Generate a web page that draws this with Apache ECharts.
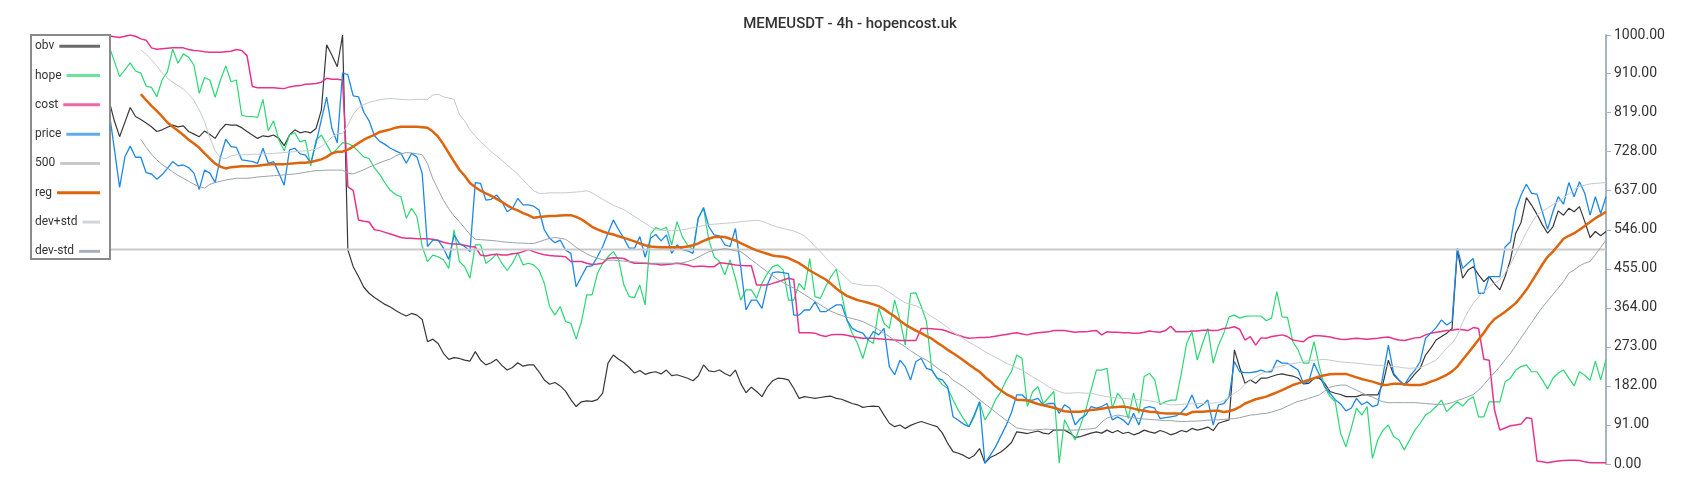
<!DOCTYPE html>
<html>
<head>
<meta charset="utf-8">
<script src="https://cdn.jsdelivr.net/npm/echarts@6/dist/echarts.min.js"></script>
<style>
html,body{margin:0;padding:0;background:#fff;}
#chart{width:1700px;height:500px;}
</style>
</head>
<body>
<div id="chart"></div>
<script>
const titleText = 'MEMEUSDT - 4h - hopencost.uk';
const seriesNames = ['obv', 'hope', 'cost', 'price', '500', 'reg', 'dev+std', 'dev-std'];
const yTicks = { min: 0, max: 1000, interval: 91 };
const level500 = 500;

const obv = [848,800,763,797,831,810,803,795,786,775,
779,785,790,786,788,775,769,763,776,768,
759,779,792,790,790,784,775,767,759,765,
763,767,759,742,767,779,772,775,772,782,
825,977,953,926,1000,499,460,437,412,398,
388,380,372,366,358,351,345,351,347,337,
285,291,281,258,244,248,246,242,240,262,
242,231,236,244,230,219,225,236,228,231,
231,215,196,186,190,182,170,150,134,145,
147,146,150,165,235,254,244,236,225,212,
218,209,213,215,210,219,206,208,204,200,
194,205,231,217,215,219,211,205,219,188,
166,179,169,157,179,194,200,199,196,176,
153,157,155,153,155,157,158,153,151,146,
141,138,132,134,135,134,114,95,87,91,
83,90,95,99,95,91,87,72,48,29,
25,20,13,20,36,2,15,21,28,38,
50,75,73,71,74,77,72,70,79,79,
79,72,62,64,68,72,75,72,79,73,
78,71,74,68,72,79,75,72,78,74,
68,72,78,75,83,79,82,86,78,95,
99,103,266,225,188,196,188,200,200,204,
208,210,207,205,200,187,188,200,200,188,
169,165,162,157,157,157,161,161,161,161,
188,242,208,195,184,195,210,223,254,270,
289,297,305,316,499,433,452,460,441,425,
437,420,406,437,476,538,563,621,603,582,
558,538,553,590,580,596,588,600,565,528,
542,532,542];

const hope = [975,939,903,919,935,916,911,881,878,856,
895,914,967,934,956,948,930,864,901,895,
855,895,928,891,895,813,810,810,808,850,
777,800,755,730,767,772,751,755,695,755,
767,745,723,735,749,747,741,728,716,712,
690,675,655,638,628,623,573,596,577,507,
472,487,483,476,456,546,472,460,433,511,
511,468,477,490,468,451,468,493,464,468,
464,452,421,367,347,367,332,328,291,332,
394,394,444,468,483,495,476,417,390,388,
417,371,535,551,546,552,511,565,530,510,
500,573,596,522,483,472,441,476,433,382,
406,406,386,421,444,460,464,452,382,382,
421,406,479,390,386,413,437,454,398,336,
305,281,246,289,281,363,328,316,382,336,
277,398,399,367,332,219,200,185,176,150,
125,105,87,110,145,103,122,150,168,195,
215,254,246,134,169,180,141,155,169,2,
103,79,56,90,126,173,219,219,223,130,
165,149,106,165,118,204,211,196,138,145,
149,149,211,281,309,242,281,316,235,277,
305,343,347,340,344,345,345,345,334,340,
402,343,342,285,266,235,235,285,227,180,
157,145,72,40,83,130,114,134,13,56,
79,91,64,56,33,56,79,95,114,122,
134,149,122,134,145,135,149,157,110,110,
145,145,145,192,200,219,227,231,215,215,
196,175,200,212,219,200,182,215,207,195,
240,196,244];

const cost = [998,996,994,997,1000,997,991,988,970,967,
968,969,970,970,970,966,964,963,961,960,
960,960,961,962,966,964,952,880,877,877,
877,877,876,875,879,881,882,885,886,887,
890,899,897,897,895,646,638,569,566,564,
546,544,540,536,532,528,526,526,525,525,
525,524,521,517,514,513,512,510,507,506,
487,485,488,489,487,487,490,491,495,500,
495,491,488,486,485,484,483,472,472,472,
468,465,466,468,479,481,480,479,472,468,
468,468,467,466,464,465,466,468,466,464,
460,461,461,460,460,469,468,466,464,463,
462,462,417,417,417,421,425,429,433,430,
306,306,306,305,300,297,301,302,302,300,
297,295,293,293,293,292,291,290,289,288,
288,288,288,316,316,315,314,313,309,304,
300,296,293,294,295,295,296,298,300,302,
304,306,303,301,304,306,307,308,311,311,
311,309,307,308,308,310,311,301,308,307,
307,306,306,305,305,307,310,308,307,311,
321,308,308,308,310,310,312,312,311,312,
316,317,320,314,289,297,277,294,293,297,
299,301,297,289,287,285,295,299,299,298,
296,293,291,290,292,293,292,291,292,293,
295,296,292,289,288,291,294,295,301,305,
307,309,311,312,314,313,311,318,316,244,
242,126,79,84,89,91,93,108,106,7,
5,3,5,7,8,9,9,8,5,3,
3,3,3];

const price = [824,735,645,716,741,715,715,679,676,664,
674,689,705,695,697,691,678,640,685,678,
656,716,757,740,738,709,707,705,701,736,
701,705,678,650,732,736,723,720,702,748,
802,855,782,749,912,907,858,856,820,800,
765,752,745,736,730,724,701,724,716,677,
507,522,522,503,477,534,514,507,495,656,
654,615,617,627,612,588,596,619,604,604,
601,592,546,526,516,522,499,491,413,437,
460,462,483,507,538,569,546,526,503,503,
530,482,526,535,520,534,491,511,500,497,
491,573,598,553,534,532,511,507,549,460,
359,382,382,363,417,446,448,446,444,347,
347,359,359,378,355,355,363,371,371,336,
316,309,305,289,309,301,316,227,208,242,
227,196,239,246,223,219,200,196,180,110,
102,93,87,115,145,2,20,40,65,90,
120,161,161,149,149,153,138,141,141,118,
138,130,91,106,114,134,130,134,141,103,
110,103,91,118,91,130,134,130,106,108,
110,112,120,134,161,130,138,149,91,138,
141,157,239,215,213,213,215,219,215,215,
242,235,235,227,219,188,192,235,208,180,
165,150,140,124,130,153,138,145,134,138,
208,277,211,196,184,204,219,239,293,305,
318,336,324,332,503,456,468,479,398,398,
437,437,437,506,518,592,627,652,631,629,
588,547,588,623,606,656,623,658,631,580,
623,584,623];

const reg = [null,null,null,null,null,null,862,848,835,823,
810,796,786,777,767,756,747,737,724,712,
700,693,689,692,693,694,694,694,695,697,
698,699,699,699,700,701,702,702,704,707,
710,716,724,728,728,733,740,748,756,762,
767,774,777,780,784,786,786,786,786,785,
784,775,763,745,725,705,686,672,655,645,
637,631,625,618,611,603,596,591,585,580,
574,576,577,578,578,579,580,580,576,570,
562,553,547,542,538,535,531,527,523,519,
514,510,507,506,505,505,505,505,505,507,
510,514,520,525,529,530,529,525,521,515,
509,503,498,494,490,486,484,483,480,474,
468,460,451,444,437,430,420,409,400,392,
387,382,379,376,372,368,361,352,344,334,
325,318,311,305,298,292,283,275,266,258,
250,241,232,223,215,203,193,181,172,163,
157,150,149,148,144,140,137,134,131,127,
123,122,122,122,124,126,127,129,131,132,
133,134,132,129,126,124,122,121,119,118,
118,118,117,115,121,122,122,123,124,124,
121,123,127,133,141,146,151,154,157,162,
167,172,178,184,188,192,196,200,204,207,
209,210,210,210,206,202,198,195,192,188,
184,185,187,187,186,184,184,184,187,192,
196,202,208,216,227,243,258,274,290,306,
324,338,346,355,365,375,390,406,425,445,
465,483,495,510,525,532,538,546,555,564,
573,580,588];

const devPlus = [null,null,null,null,null,null,965,955,942,928,
912,900,890,882,874,862,848,825,798,760,
730,714,712,718,721,721,721,722,722,723,
723,724,725,726,727,728,729,730,731,734,
740,750,762,770,771,790,815,830,838,843,
846,849,851,852,851,850,849,849,850,850,
850,860,862,856,853,850,815,800,779,765,
751,740,728,718,708,697,686,676,662,650,
637,631,631,632,632,632,632,633,634,635,
637,632,625,617,610,603,598,593,585,577,
569,561,553,546,545,544,544,544,546,548,
551,553,556,558,559,560,561,562,563,565,
566,567,568,566,561,556,552,549,546,543,
538,532,520,507,495,481,468,456,445,432,
421,419,417,416,416,415,408,400,392,383,
376,372,369,362,352,343,336,327,318,307,
300,292,284,277,270,262,255,249,242,235,
230,224,219,211,203,196,188,180,174,169,
165,165,166,166,165,165,162,159,157,155,
154,153,152,151,150,149,147,145,143,140,
138,138,139,140,140,141,141,142,142,143,
148,155,165,173,186,195,203,210,215,220,
226,229,232,234,236,239,241,242,243,244,
242,240,238,237,236,235,234,232,231,230,
229,228,227,226,224,223,224,225,230,236,
242,256,270,281,300,330,355,375,390,402,
413,422,429,445,465,490,515,540,562,580,
590,596,605,612,620,630,640,647,650,653,
654,655,656];

const devMinus = [null,null,null,null,null,null,757,738,722,709,
698,690,681,673,666,659,652,647,643,652,
656,659,662,664,666,666,666,667,669,670,
671,672,673,674,675,676,678,680,682,684,
684,685,685,685,685,678,676,681,686,692,
697,702,707,711,718,723,726,725,723,721,
700,665,640,615,595,578,565,550,535,524,
523,522,521,520,518,517,516,515,515,514,
514,518,522,526,528,526,524,515,505,497,
490,484,480,476,475,475,474,473,472,471,
470,469,468,468,468,468,468,468,469,472,
476,482,489,495,498,500,502,500,497,495,
486,476,467,457,448,439,430,423,416,410,
403,395,387,379,371,363,356,351,346,342,
339,336,332,326,320,313,305,297,288,281,
273,264,256,248,242,234,224,215,208,195,
188,180,170,160,150,140,131,121,111,102,
93,84,82,80,79,80,81,81,80,79,
79,79,79,80,81,82,84,98,107,111,
114,112,110,108,106,105,104,103,102,101,
101,100,99,99,100,100,101,102,103,103,
104,105,106,108,111,114,115,117,118,121,
125,129,135,141,146,149,153,157,161,170,
179,182,184,184,178,172,166,160,156,150,
145,143,143,143,143,143,143,142,141,140,
139,139,140,143,148,152,157,162,172,185,
200,213,227,243,258,276,294,312,330,348,
365,380,395,410,425,445,452,462,468,472,
488,505,522];

// bar positions (one per 4h candle)
const categories = price.map((_, i) => String(i + 1));

// ---------- styling ----------
const colors = {
  'obv': '#383838',
  'hope': '#2ad873',
  'cost': '#e8338a',
  'price': '#1e88e5',
  '500': '#c9c9c9',
  'reg': '#dc650d',
  'dev+std': '#c4cacf',
  'dev-std': '#98a3ac'
};
const widths = { 'obv': 1.2, 'hope': 1.2, 'cost': 1.5, 'price': 1.3, '500': 2, 'reg': 2.5, 'dev+std': 1, 'dev-std': 1 };
const swatchOpacity = { 'obv': 0.75, 'hope': 0.7, 'cost': 0.75, 'price': 0.7, '500': 1, 'reg': 1, 'dev+std': 0.8, 'dev-std': 0.85 };
const FONT = 'Roboto, "DejaVu Sans", sans-serif';

const measureCtx = document.createElement('canvas').getContext('2d');
measureCtx.font = '12px Roboto';

const legends = seriesNames.map((n, i) => {
  const tw = measureCtx.measureText(n).width;
  return {
    data: [{ name: n, itemStyle: { opacity: swatchOpacity[n] } }],
    orient: 'vertical',
    left: 35,
    top: 45 + i * 29.3 - 4.75,
    padding: 0,
    align: 'right',
    icon: 'rect',
    itemWidth: Math.max(10, 60 - tw),
    itemHeight: 3,
    textStyle: { fontSize: 12, color: '#333', fontFamily: FONT },
    z: 5
  };
});

const dataMap = { 'obv': obv, 'hope': hope, 'cost': cost, 'price': price, 'reg': reg, 'dev+std': devPlus, 'dev-std': devMinus };

const series = seriesNames.map(n => {
  const s = {
    name: n,
    type: 'line',
    symbol: 'none',
    showSymbol: false,
    smooth: false,
    connectNulls: false,
    color: colors[n],
    lineStyle: { color: colors[n], width: widths[n] },
    emphasis: { disabled: true },
    animation: false,
    z: 2
  };
  if (n === '500') {
    s.data = [[categories[0], level500], [categories[categories.length - 1], level500]];
  } else {
    s.data = dataMap[n];
  }
  return s;
});

const chart = echarts.init(document.getElementById('chart'), null, { renderer: 'canvas' });
chart.setOption({
  animation: false,
  backgroundColor: '#fff',
  title: {
    text: titleText,
    left: 'center',
    top: 12,
    textStyle: { fontSize: 15, fontWeight: 500, color: '#333', fontFamily: FONT }
  },
  grid: { left: 109, right: 94, top: 35, bottom: 36, containLabel: false },
  xAxis: {
    type: 'category',
    data: categories,
    boundaryGap: false,
    show: false
  },
  yAxis: {
    type: 'value',
    position: 'right',
    min: yTicks.min,
    max: yTicks.max,
    interval: yTicks.interval,
    axisLine: { show: true, lineStyle: { color: '#a9b5bd', width: 2 } },
    axisTick: { show: true, length: 5, lineStyle: { color: '#a9b5bd', width: 1 } },
    splitLine: { show: false },
    axisLabel: {
      formatter: v => Number(v).toFixed(2),
      color: '#333',
      fontSize: 14,
      fontFamily: FONT,
      margin: 8
    }
  },
  legend: legends,
  graphic: [{
    type: 'rect',
    shape: { x: 31, y: 35, width: 79, height: 224 },
    style: { fill: '#fff', stroke: '#8a8a8a', lineWidth: 2 },
    z: 3,
    silent: true
  }],
  series: series
});
</script>
</body>
</html>
